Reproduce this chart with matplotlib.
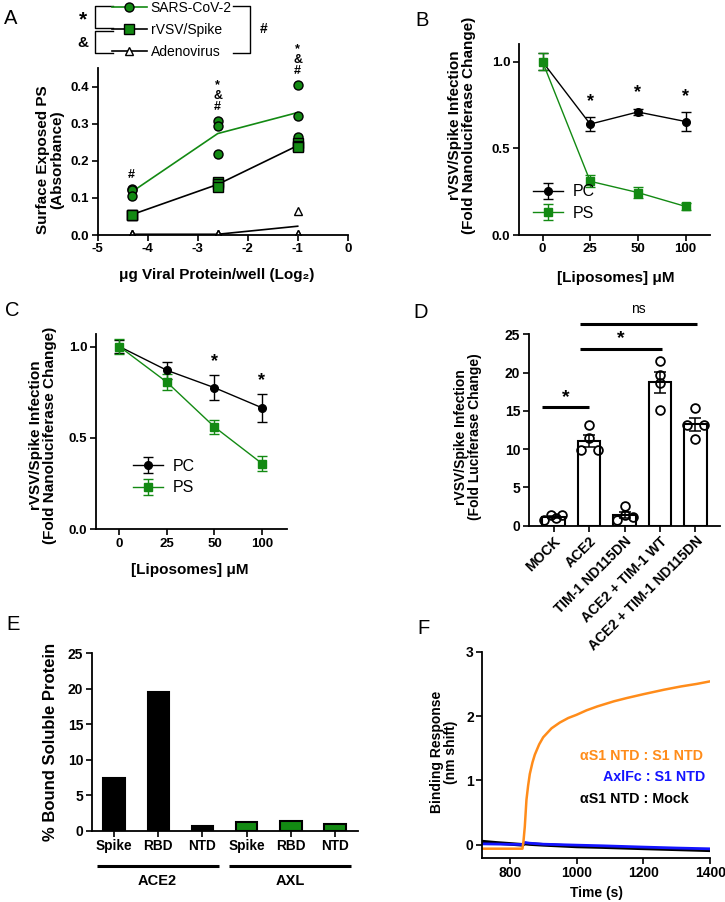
import matplotlib
matplotlib.use("Agg")
import matplotlib.pyplot as plt
import numpy as np
from matplotlib.lines import Line2D

plt.rcParams['font.family'] = ['Liberation Sans', 'DejaVu Sans']
plt.rcParams['font.weight'] = 'bold'
plt.rcParams['axes.labelweight'] = 'bold'

GREEN = '#138a13'
ORANGE = '#ff8c1a'
BLUE = '#1414ff'

# --- A: surface exposed PS ---
a_x = [-4.32, -2.6, -1.0]
a_sars = [[0.123, 0.120, 0.105], [0.308, 0.295, 0.217], [0.404, 0.321, 0.265]]
a_rvsv = [[0.055, 0.055, 0.054], [0.142, 0.138, 0.129], [0.247, 0.240, 0.236]]
a_adeno = [[0.002, 0.002, 0.002], [0.002, 0.002, 0.002], [0.065, 0.004, 0.002]]
a_sig = ['#', '*\n&\n#', '*\n&\n#']

# --- B / C: liposome competition ---
lipo_labels = ['0', '25', '50', '100']
b_pc = [1.0, 0.64, 0.71, 0.655]
b_pc_err = [0.05, 0.04, 0.02, 0.055]
b_ps = [1.0, 0.31, 0.245, 0.165]
b_ps_err = [0.05, 0.035, 0.03, 0.02]
b_star = [False, True, True, True]

c_pc = [1.0, 0.87, 0.775, 0.665]
c_pc_err = [0.035, 0.045, 0.07, 0.075]
c_ps = [1.0, 0.805, 0.56, 0.36]
c_ps_err = [0.04, 0.045, 0.04, 0.04]
c_star = [False, False, True, True]

# --- D: TIM-1 / ACE2 ---
d_labels = ['MOCK', 'ACE2', 'TIM-1 ND115DN', 'ACE2 + TIM-1 WT', 'ACE2 + TIM-1 ND115DN']
d_points = [[0.74, 1.39, 0.96, 1.39],
            [13.1, 11.4, 9.9, 9.9],
            [0.74, 2.57, 1.39, 1.09],
            [21.5, 19.7, 18.6, 15.1],
            [15.4, 13.1, 13.1, 11.3]]
# horizontal scatter of the dots inside each bar (style only)
d_jitter = [[-0.26, -0.08, 0.07, 0.24],
            [0.0, 0.0, -0.24, 0.24],
            [-0.2, 0.0, 0.0, 0.23],
            [0.0, 0.0, 0.0, 0.0],
            [0.0, -0.24, 0.24, 0.0]]

# --- E: bound soluble protein ---
e_labels = ['Spike', 'RBD', 'NTD', 'Spike', 'RBD', 'NTD']
e_values = [7.4, 19.5, 0.7, 1.2, 1.3, 1.0]
e_groups = ['ACE2', 'ACE2', 'ACE2', 'AXL', 'AXL', 'AXL']

# --- F: binding kinetics ---
f_t_orange = [717, 760, 800, 838, 841, 845, 850, 855, 860, 868, 875, 888, 900, 925, 950,
              975, 1000, 1030, 1062, 1112, 1150, 1200, 1262, 1312, 1360, 1400]
f_orange = [-0.06, -0.06, -0.06, -0.06, 0.05, 0.28, 0.70, 0.92, 1.10, 1.28, 1.40, 1.56,
            1.67, 1.81, 1.90, 1.97, 2.02, 2.09, 2.15, 2.23, 2.28, 2.34, 2.41, 2.46, 2.50, 2.54]
f_t_blue = [717, 780, 838, 845, 860, 900, 1000, 1076, 1200, 1300, 1400]
f_blue = [0.015, 0.01, 0.005, 0.036, 0.025, 0.01, -0.005, -0.015, -0.035, -0.05, -0.062]
f_t_black = [717, 760, 800, 838, 845, 860, 900, 1000, 1076, 1200, 1300, 1400]
f_black = [0.05, 0.03, 0.015, 0.0, 0.02, 0.012, 0.0, -0.025, -0.035, -0.055, -0.07, -0.085]

W, H = 725, 902
fig = plt.figure(figsize=(W / 100, H / 100), dpi=100)


def fx(x):
    return x / W


def fy(y):
    return 1 - y / H


def add_ax(l, t, r, b):
    return fig.add_axes([l / W, 1 - b / H, (r - l) / W, (b - t) / H])


def style(ax, ts=9.5):
    for s in ['top', 'right']:
        ax.spines[s].set_visible(False)
    for s in ['left', 'bottom']:
        ax.spines[s].set_linewidth(1.3)
        ax.spines[s].set_zorder(5)
    ax.tick_params(width=1.2, length=4, labelsize=ts, direction='out', pad=2)


def place_labels(ax, box, xlab, ylab, xl_px, yl_px, fs=11):
    l, t, r, b = box
    if xlab:
        ax.set_xlabel(xlab, fontsize=fs)
        ax.xaxis.set_label_coords((xl_px[0] - l) / (r - l), (b - xl_px[1]) / (b - t))
        ax.xaxis.label.set_va('center')
    if ylab:
        ax.set_ylabel(ylab, fontsize=fs, linespacing=1.05)
        ax.yaxis.set_label_coords((yl_px[0] - l) / (r - l), (b - yl_px[1]) / (b - t))
        ax.yaxis.label.set_va('center')


def panel_letter(s, x, y):
    fig.text(fx(x), fy(y), s, fontsize=14.5, fontweight='normal', ha='left', va='center')


# ================= A =================
boxA = (97.7, 68, 347.7, 235)
axA = add_ax(*boxA)
style(axA)
series_A = [(a_sars, 'o', GREEN, 'SARS-CoV-2', GREEN),
            (a_rvsv, 's', GREEN, 'rVSV/Spike', 'black'),
            (a_adeno, '^', 'white', 'Adenovirus', 'black')]
handles = []
for data, mk, fc, lab, lc in series_A:
    ms = 6.5 if mk != '^' else 5.8
    means = [np.mean(v) for v in data]
    axA.plot(a_x, means, color=lc, lw=1.2, zorder=2)
    for xi, vals in zip(a_x, data):
        axA.plot([xi] * len(vals), vals, ls='none', marker=mk, ms=ms,
                 mfc=fc, mec='black', mew=1.0, zorder=3)
    handles.append(Line2D([], [], color=lc, lw=1.2, marker=mk, ms=ms,
                          mfc=fc, mec='black', mew=1.0))
for xi, data, marks in zip(a_x, a_sars, a_sig):
    axA.text(xi, max(data) + 0.022, marks, ha='center', va='bottom', fontsize=9,
             linespacing=0.85, clip_on=False)
axA.set_xlim(-5, 0)
axA.set_ylim(0, 0.45)
axA.set_xticks([-5, -4, -3, -2, -1, 0])
axA.set_xticklabels(['-5', '-4', '-3', '-2', '-1', '0'])
axA.set_yticks([0, 0.1, 0.2, 0.3, 0.4])
axA.set_yticklabels(['0.0', '0.1', '0.2', '0.3', '0.4'])
place_labels(axA, boxA, 'μg Viral Protein/well (Log₂)', 'Surface Exposed PS\n(Absorbance)',
             (217, 275), (50, 160), fs=11)
leg = fig.legend(handles, [s[3] for s in series_A], loc='center left',
                 bbox_to_anchor=(fx(109), fy(30)), frameon=False, handlelength=2.5,
                 handletextpad=0.3, labelspacing=0.6, borderpad=0.2, borderaxespad=0.0,
                 prop={'size': 10, 'weight': 'normal'})
# brackets linking legend entries
br = dict(color='black', lw=1.0, transform=fig.transFigure, clip_on=False)
fig.add_artist(Line2D([fx(113), fx(95), fx(95), fx(113)], [fy(6), fy(6), fy(28), fy(28)], **br))
fig.add_artist(Line2D([fx(113), fx(95), fx(95), fx(113)], [fy(31), fy(31), fy(53), fy(53)], **br))
fig.add_artist(Line2D([fx(233), fx(250), fx(250), fx(233)], [fy(6), fy(6), fy(53), fy(53)], **br))
fig.text(fx(83), fy(20), '*', fontsize=15, ha='center', va='center')
fig.text(fx(83), fy(43), '&', fontsize=11, ha='center', va='center')
fig.text(fx(264), fy(29), '#', fontsize=10, ha='center', va='center')
panel_letter('A', 4, 18)


# ================= B / C =================
def lipo_panel(box, pc, pc_err, ps, ps_err, stars, ylim_top, star_off, leg_anchor):
    ax = add_ax(*box)
    style(ax)
    x = np.arange(len(lipo_labels))
    ax.errorbar(x, pc, yerr=pc_err, color='black', lw=1.0, marker='o', ms=5.5,
                capsize=3.5, capthick=1.0, elinewidth=1.0, label='PC', zorder=3)
    ax.errorbar(x, ps, yerr=ps_err, color=GREEN, lw=1.0, marker='s', ms=5.5,
                capsize=3.5, capthick=1.0, elinewidth=1.0, label='PS', zorder=3)
    for xi, s, v, e in zip(x, stars, pc, pc_err):
        if s:
            ax.text(xi, v + e + star_off, '*', ha='center', va='center', fontsize=13)
    ax.set_xticks(x)
    ax.set_xticklabels(lipo_labels)
    ax.set_xlim(-0.5, 3.52)
    ax.set_ylim(0, ylim_top)
    ax.set_yticks([0, 0.5, 1.0])
    ax.set_yticklabels(['0.0', '0.5', '1.0'])
    ax.legend(loc='lower left', bbox_to_anchor=leg_anchor, frameon=False, handlelength=1.9,
              handletextpad=0.6, labelspacing=0.4, prop={'size': 11.5, 'weight': 'normal'})
    return ax


boxB = (518.7, 44.4, 710.3, 235)
axB = lipo_panel(boxB, b_pc, b_pc_err, b_ps, b_ps_err, b_star, 1.1, 0.09, (0.0, 0.0))
place_labels(axB, boxB, '[Liposomes] μM', 'rVSV/Spike Infection\n(Fold Nanoluciferase Change)',
             (616, 278), (462, 125), fs=11)
panel_letter('B', 415, 20)

boxC = (95.7, 333.8, 286.7, 529.3)
axC = lipo_panel(boxC, c_pc, c_pc_err, c_ps, c_ps_err, c_star, 1.07, 0.075, (0.12, 0.1))
place_labels(axC, boxC, '[Liposomes] μM', 'rVSV/Spike Infection\n(Fold Nanoluciferase Change)',
             (190, 570), (43, 435), fs=11)
panel_letter('C', 5, 311)

# ================= D =================
boxD = (528.7, 334.3, 720.3, 525.7)
axD = add_ax(*boxD)
style(axD, ts=10)
xd = np.arange(len(d_labels))
d_mean = [np.mean(p) for p in d_points]
d_sem = [np.std(p, ddof=1) / np.sqrt(len(p)) for p in d_points]
axD.bar(xd, d_mean, width=0.64, color='white', edgecolor='black', lw=1.5, zorder=2)
axD.errorbar(xd, d_mean, yerr=d_sem, fmt='none', ecolor='black', elinewidth=1.1,
             capsize=4, capthick=1.1, zorder=3)
for xi, pts, jit in zip(xd, d_points, d_jitter):
    axD.plot(xi + np.array(jit), pts, ls='none', marker='o', ms=6.3, mfc='none', mec='black',
             mew=1.3, zorder=4, clip_on=False)
axD.set_xlim(-0.7, 4.7)
axD.set_ylim(0, 25)
axD.set_yticks([0, 5, 10, 15, 20, 25])
axD.set_xticks(xd)
axD.set_xticklabels(d_labels, rotation=45, ha='right', rotation_mode='anchor', fontsize=10)
sig_D = [(-0.33, 1.0, 15.5, '*'), (0.75, 3.06, 23.1, '*'), (0.75, 4.03, 26.4, 'ns')]
for x0, x1, yy, lab in sig_D:
    axD.plot([x0, x1], [yy, yy], color='black', lw=2.2, clip_on=False, solid_capstyle='butt')
    if lab == '*':
        axD.text((x0 + x1) / 2, yy + 1.3, lab, ha='center', va='center', fontsize=14)
    else:
        axD.text((x0 + x1) / 2, yy + 1.9, lab, ha='center', va='center', fontsize=10,
                 fontweight='normal')
place_labels(axD, boxD, None, 'rVSV/Spike Infection\n(Fold Luciferase Change)',
             None, (468, 437), fs=10)
panel_letter('D', 413, 312)

# ================= E =================
boxE = (91.7, 653.3, 358.3, 830.7)
axE = add_ax(*boxE)
style(axE, ts=10)
xe = np.arange(len(e_labels))
e_colors = ['black' if g == 'ACE2' else GREEN for g in e_groups]
axE.bar(xe, e_values, width=0.49, color=e_colors, edgecolor='black', lw=1.5, zorder=2)
axE.set_xlim(-0.51, 5.53)
axE.set_ylim(0, 25)
axE.set_yticks([0, 5, 10, 15, 20, 25])
axE.set_xticks(xe)
axE.set_xticklabels(e_labels, fontsize=9.8)
trE = axE.get_xaxis_transform()
for g in ['ACE2', 'AXL']:
    idx = [i for i, gg in enumerate(e_groups) if gg == g]
    x0, x1 = xe[idx[0]] - 0.4, xe[idx[-1]] + 0.37
    axE.plot([x0, x1], [-0.197, -0.197], color='black', lw=2.2, transform=trE, clip_on=False,
             solid_capstyle='butt')
    axE.text((x0 + x1) / 2, -0.285, g, transform=trE, ha='center', va='center', fontsize=10.5)
place_labels(axE, boxE, None, '% Bound Soluble Protein', None, (51, 742), fs=12)
panel_letter('E', 6, 625)

# ================= F =================
boxF = (482, 651.7, 710.3, 857.7)
axF = add_ax(*boxF)
style(axF, ts=10)
axF.plot(f_t_black, f_black, color='black', lw=2.6, zorder=2)
axF.plot(f_t_blue, f_blue, color=BLUE, lw=2.0, zorder=3)
axF.plot(f_t_orange, f_orange, color=ORANGE, lw=1.8, zorder=4)
axF.set_xlim(717, 1400)
axF.set_ylim(-0.2, 3)
axF.set_xticks([800, 1000, 1200, 1400])
axF.set_yticks([0, 1, 2, 3])
place_labels(axF, boxF, 'Time (s)', 'Binding Response\n(nm shift)', (596, 893), (444, 752), fs=10)
fig.text(fx(580), fy(756), 'αS1 NTD : S1 NTD', color=ORANGE, fontsize=10.3, ha='left', va='center')
fig.text(fx(705), fy(777), 'AxlFc : S1 NTD', color=BLUE, fontsize=10.3, ha='right', va='center')
fig.text(fx(580), fy(799), 'αS1 NTD : Mock', color='black', fontsize=10.3, ha='left', va='center')
panel_letter('F', 417, 628)

fig.savefig('out.png', dpi=100)
